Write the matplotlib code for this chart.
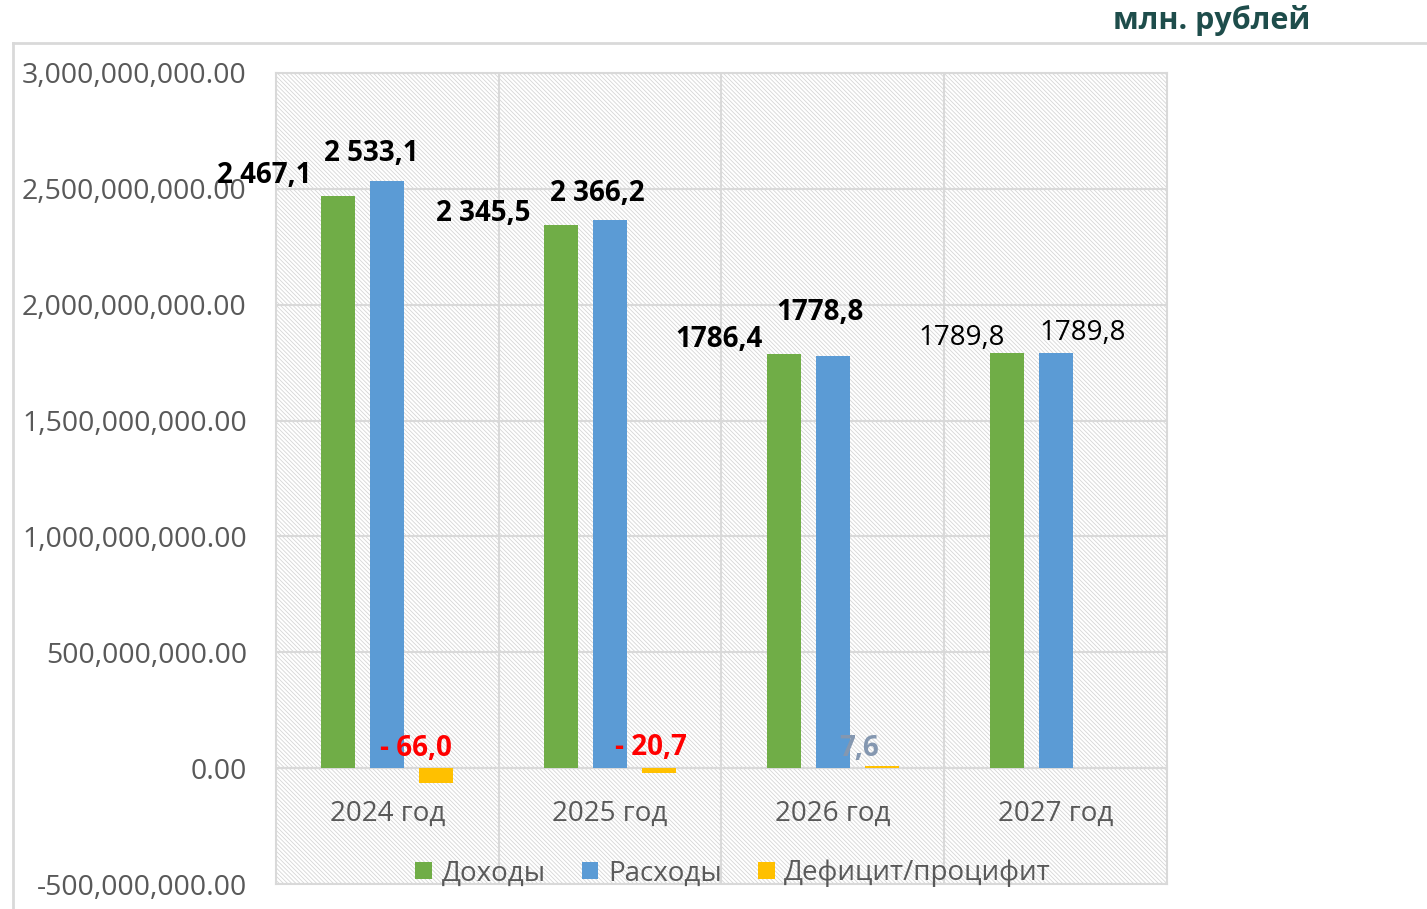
import matplotlib.pyplot as plt
import numpy as np
from matplotlib.patches import Rectangle
from matplotlib.lines import Line2D
from matplotlib.ticker import FuncFormatter, MultipleLocator

plt.rcParams['font.family'] = ['Open Sans', 'DejaVu Sans']
plt.rcParams['hatch.linewidth'] = 0.6
plt.rcParams['hatch.color'] = '#d6d6d6'

years = ['2024 год', '2025 год', '2026 год', '2027 год']
income = [2467.1, 2345.5, 1786.4, 1789.8]      # млн. руб.
expenses = [2533.1, 2366.2, 1778.8, 1789.8]
balance = [-66.0, -20.7, 7.6, 0.0]

income_lbl = ['2 467,1', '2 345,5', '1786,4', '1789,8']
expenses_lbl = ['2 533,1', '2 366,2', '1778,8', '1789,8']
balance_lbl = ['- 66,0', '- 20,7', '7,6', None]

fig = plt.figure(figsize=(14.27, 9.09), dpi=100)
ax = fig.add_axes([0.1934, 0.0275, 0.6244, 0.8922])

# chart frame (top and left edges)
fig.add_artist(Line2D([13 / 1427, 1.0], [1 - 43 / 909, 1 - 43 / 909], color='#d9d9d9', lw=2))
fig.add_artist(Line2D([13 / 1427, 13 / 1427], [0, 1 - 43 / 909], color='#d9d9d9', lw=2))

# hatched plot area
ax.add_patch(Rectangle((0, 0), 1, 1, transform=ax.transAxes, facecolor='white',
                       edgecolor='#d6d6d6', hatch='\\' * 8, lw=0, zorder=0))

x = np.arange(len(years))
w = 0.153
step = 0.22
scale = 1e6
b1 = ax.bar(x - step, np.array(income) * scale, w, color='#70AD47', label='Доходы', zorder=3)
b2 = ax.bar(x, np.array(expenses) * scale, w, color='#5B9BD5', label='Расходы', zorder=3)
b3 = ax.bar(x + step, np.array(balance) * scale, w, color='#FFC000', label='Дефицит/процифит', zorder=3)

ax.set_xlim(-0.5, 3.5)
ax.set_ylim(-500e6, 3000e6)
ax.yaxis.set_major_locator(MultipleLocator(500e6))
ax.yaxis.set_major_formatter(FuncFormatter(lambda v, p: f'{v:,.2f}'))
ax.grid(axis='y', color='#d9d9d9', lw=1.5, zorder=1)
for xv in [0.5, 1.5, 2.5]:
    ax.axvline(xv, color='#d9d9d9', lw=1.5, zorder=1)

for s in ['top', 'right', 'left']:
    ax.spines[s].set_color('#d9d9d9')
    ax.spines[s].set_linewidth(1.5)
ax.spines['bottom'].set_position(('data', 0))
ax.spines['bottom'].set_color('#d9d9d9')
ax.spines['bottom'].set_linewidth(1.5)
# bottom border of plot area
ax.plot([0, 1], [0, 0], transform=ax.transAxes, color='#d9d9d9', lw=1.5, clip_on=False)

ax.set_xticks(x)
ax.set_xticklabels(years)
ax.tick_params(axis='x', length=0, pad=23, labelsize=20, labelcolor='#595959')
ax.tick_params(axis='y', length=0, pad=21, labelsize=20.5, labelcolor='#595959')

# data labels: offsets in pixels from the bar top
inc_off = [(-74, 21), (-78, 11), (-65, 15), (-45, 15)]
exp_off = [(-16, 28), (-13, 26), (-13, 43), (27, 20)]
bal_off = [(-20, 35), (-8, 25), (-23, 18), (0, 0)]
inc_bold = [True, True, True, False]
exp_bold = [True, True, True, False]

for i in range(len(years)):
    ax.annotate(income_lbl[i], (x[i] - step, income[i] * scale), xytext=inc_off[i],
                textcoords='offset pixels', ha='center', va='center', fontsize=20,
                fontweight='bold' if inc_bold[i] else 'normal', color='black', zorder=5)
    ax.annotate(expenses_lbl[i], (x[i], expenses[i] * scale), xytext=exp_off[i],
                textcoords='offset pixels', ha='center', va='center', fontsize=20,
                fontweight='bold' if exp_bold[i] else 'normal', color='black', zorder=5)
    if balance_lbl[i]:
        col = '#FF0000' if balance[i] < 0 else '#8497B0'
        ax.annotate(balance_lbl[i], (x[i] + step, balance[i] * scale), xytext=bal_off[i],
                    textcoords='offset pixels', ha='center', va='center', fontsize=20,
                    fontweight='bold', color=col, zorder=5)

leg = ax.legend(loc='lower center', bbox_to_anchor=(0.513, -0.035), ncol=3, frameon=False,
                fontsize=20, handlelength=0.6, handleheight=0.6, handletextpad=0.35,
                columnspacing=1.3, labelcolor='#595959')

fig.text(1310 / 1427, 1 - 20 / 909, 'млн. рублей', ha='right', va='center',
         fontsize=22, fontweight='bold', color='#1E4D4B')

fig.savefig('out.png', dpi=100)
